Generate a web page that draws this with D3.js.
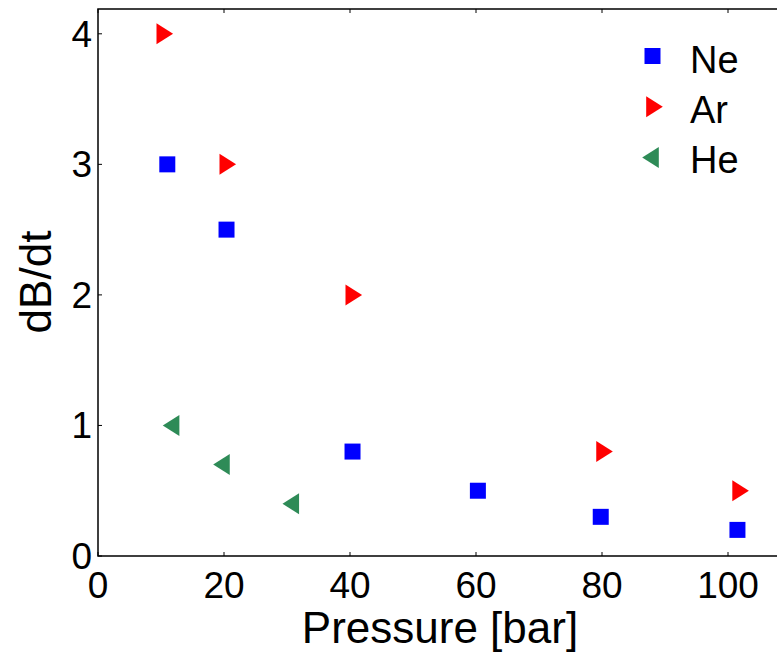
<!DOCTYPE html>
<html>
<head>
<meta charset="utf-8">
<script src="https://cdn.jsdelivr.net/npm/d3@7"></script>
<style>
  body { margin: 0; background: #fff; }
  svg text { font-family: "Liberation Sans", Arial, sans-serif; fill: #000; }
</style>
</head>
<body>
<div id="chart"></div>
<script>
// data
const neX = [11, 20.4, 40.4, 60.3, 79.8, 101.5]
const neY = [3, 2.5, 0.8, 0.5, 0.3, 0.2]
const arX = [10.6, 20.6, 40.6, 80.4, 102]
const arY = [4, 3, 2, 0.8, 0.5]
const heX = [11.6, 19.6, 30.6]
const heY = [1, 0.7, 0.4]
const xTicks = [0, 20, 40, 60, 80, 100]
const yTicks = [0, 1, 2, 3, 4]

const series = [
    { name: 'Ne', xs: neX, ys: neY, color: '#0000ff', shape: 'square', dx: 0 },
    { name: 'Ar', xs: arX, ys: arY, color: '#ff0000', shape: 'right', dx: 2 },
    { name: 'He', xs: heX, ys: heY, color: '#2e8b57', shape: 'left', dx: -2 }
]

const W = 777, H = 652
const margin = { left: 98, top: 9, right: 0, bottom: 96 }

const svg = d3.select('#chart').append('svg')
    .attr('width', W)
    .attr('height', H)

const x = d3.scaleLinear().domain([0, 108]).range([margin.left, margin.left + 6.3 * 108])
const y = d3.scaleLinear().domain([0, 4.19]).range([H - margin.bottom, margin.top])

/** path for a marker shape centred at 0,0 */
function markerPath(shape) {
    let w = 8.3, h = 10.5
    if (shape === 'square') return 'M-8,-8H8V8H-8Z'
    if (shape === 'right') return `M${-w},${-h}L${w},0L${-w},${h}Z`
    return `M${w},${-h}L${-w},0L${w},${h}Z`
}

// box lines (left, top, bottom)
const x0 = x(0), x1 = W, y0 = y(0), y1 = margin.top
svg.append('path')
    .attr('d', `M${x1},${y1}H${x0}V${y0}H${x1}`)
    .attr('fill', 'none')
    .attr('stroke', '#000')
    .attr('stroke-width', 1.5)

// small inward ticks
svg.append('g').selectAll('path.xt')
    .data(xTicks)
    .enter().append('path')
    .attr('d', d => `M${x(d)},${y0}v-4M${x(d)},${y1}v4`)
    .attr('stroke', '#000')
    .attr('stroke-width', 1)

svg.append('g').selectAll('path.yt')
    .data(yTicks)
    .enter().append('path')
    .attr('d', d => `M${x0},${y(d)}h4`)
    .attr('stroke', '#000')
    .attr('stroke-width', 1)

// tick labels
svg.append('g').selectAll('text')
    .data(xTicks)
    .enter().append('text')
    .attr('x', d => x(d))
    .attr('y', y0 + 42)
    .attr('text-anchor', 'middle')
    .attr('font-size', 37)
    .text(d => d)

svg.append('g').selectAll('text')
    .data(yTicks)
    .enter().append('text')
    .attr('x', x0 - 6)
    .attr('y', d => y(d) + 13)
    .attr('text-anchor', 'end')
    .attr('font-size', 37)
    .text(d => d)

// axis titles
svg.append('text')
    .attr('x', 440)
    .attr('y', 643)
    .attr('text-anchor', 'middle')
    .attr('font-size', 44)
    .text('Pressure [bar]')

svg.append('text')
    .attr('transform', 'translate(51,' + 282 + ') rotate(-90)')
    .attr('text-anchor', 'middle')
    .attr('font-size', 44)
    .text('dB/dt')

// markers
series.forEach(s => {
    svg.append('g').selectAll('path')
        .data(s.xs.map((v, i) => [v, s.ys[i]]))
        .enter().append('path')
        .attr('transform', d => 'translate(' + x(d[0]) + ',' + y(d[1]) + ')')
        .attr('d', markerPath(s.shape))
        .attr('fill', s.color)
})

// legend
const legend = svg.append('g').attr('transform', 'translate(652.5,56)')
series.forEach((s, i) => {
    legend.append('path')
        .attr('transform', 'translate(' + s.dx + ',' + i * 50.8 + ')')
        .attr('d', markerPath(s.shape))
        .attr('fill', s.color)
    legend.append('text')
        .attr('x', 37.5)
        .attr('y', i * 50.3 + 16.5)
        .attr('font-size', 38)
        .text(s.name)
})
</script>
</body>
</html>
